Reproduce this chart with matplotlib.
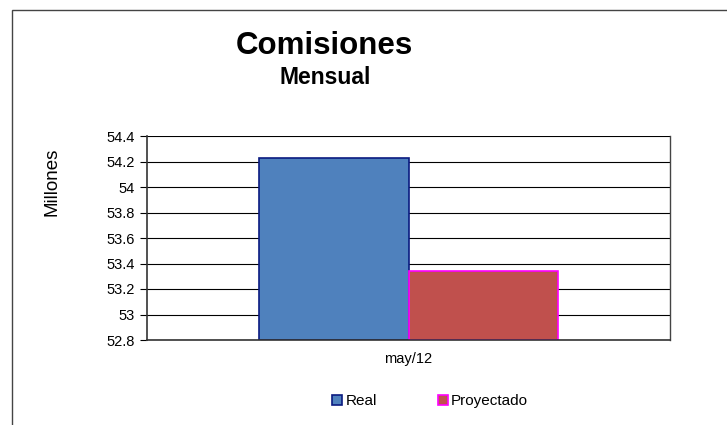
#Bar chart of monthly commissions: real vs projected

import numpy as np
import matplotlib
matplotlib.use('Agg')
import matplotlib.pyplot as plt
from matplotlib.patches import Rectangle

plt.rcParams['font.family'] = ['Liberation Sans', 'DejaVu Sans']

#Data
categories = ['may/12']
series_names = ['Real', 'Proyectado']
real = [54.225]
proyectado = [53.34]
yticks = [52.8, 53, 53.2, 53.4, 53.6, 53.8, 54, 54.2, 54.4]
ytick_labels = ['52.8', '53', '53.2', '53.4', '53.6', '53.8', '54', '54.2', '54.4']

W, H = 727, 425
fig = plt.figure(figsize=(W/100., H/100.), dpi=100)

#Outer chart frame (cut off at the right and bottom)
fig.patches.append(Rectangle((12./W, -0.1), 1.2, 1 - 10./H + 0.1,
                             transform=fig.transFigure, fill=False,
                             edgecolor='#444444', linewidth=1.0))

ax = fig.add_axes([147./W, 1 - 340./H, (670.-147.)/W, (340.-136.)/H])

x = np.arange(len(categories))
width = 0.286
ax.bar(x - width/2, [r - 52.8 for r in real], width, bottom=52.8,
       color='#4f81bd', edgecolor='#0a1a80', linewidth=1.2, label=series_names[0])
ax.bar(x + width/2, [p - 52.8 for p in proyectado], width, bottom=52.8,
       color='#c0504d', edgecolor='#ff00ff', linewidth=1.2, label=series_names[1])

ax.set_xlim(-0.5, 0.5)
ax.set_ylim(52.8, 54.4)
ax.set_yticks(yticks)
ax.set_yticklabels(ytick_labels, fontsize=10.5)
ax.set_xticks(x)
ax.set_xticklabels(categories, fontsize=10.5)
ax.tick_params(axis='x', length=0, pad=9)
ax.tick_params(axis='y', length=5, width=0.8, pad=4)

ax.yaxis.grid(True, color='#000000', linewidth=0.8)
ax.set_axisbelow(True)
for side in ['left', 'bottom']:
    ax.spines[side].set_color('#333333')
    ax.spines[side].set_linewidth(1.2)
ax.spines['right'].set_color('#444444')
ax.spines['right'].set_linewidth(1.0)
ax.spines['top'].set_visible(False)

ax.set_ylabel('Millones', fontsize=13.5, labelpad=0)
ax.yaxis.set_label_coords((60. - 147.)/(670. - 147.), (340. - 182.)/(340. - 136.))

#Titles
fig.text(324./W, 1 - 46./H, 'Comisiones', fontsize=22.5, fontweight='bold',
         ha='center', va='center')
fig.text(325./W, 1 - 78./H, 'Mensual', fontsize=16.5, fontweight='bold',
         ha='center', va='center')

#Legend
fig.legend(loc='center', bbox_to_anchor=(430./W, 1 - 401./H), ncol=2,
           frameon=False, fontsize=11, handlelength=0.65, handleheight=0.65,
           handletextpad=0.2, columnspacing=4.0)

plt.savefig('out.png', dpi=100)
